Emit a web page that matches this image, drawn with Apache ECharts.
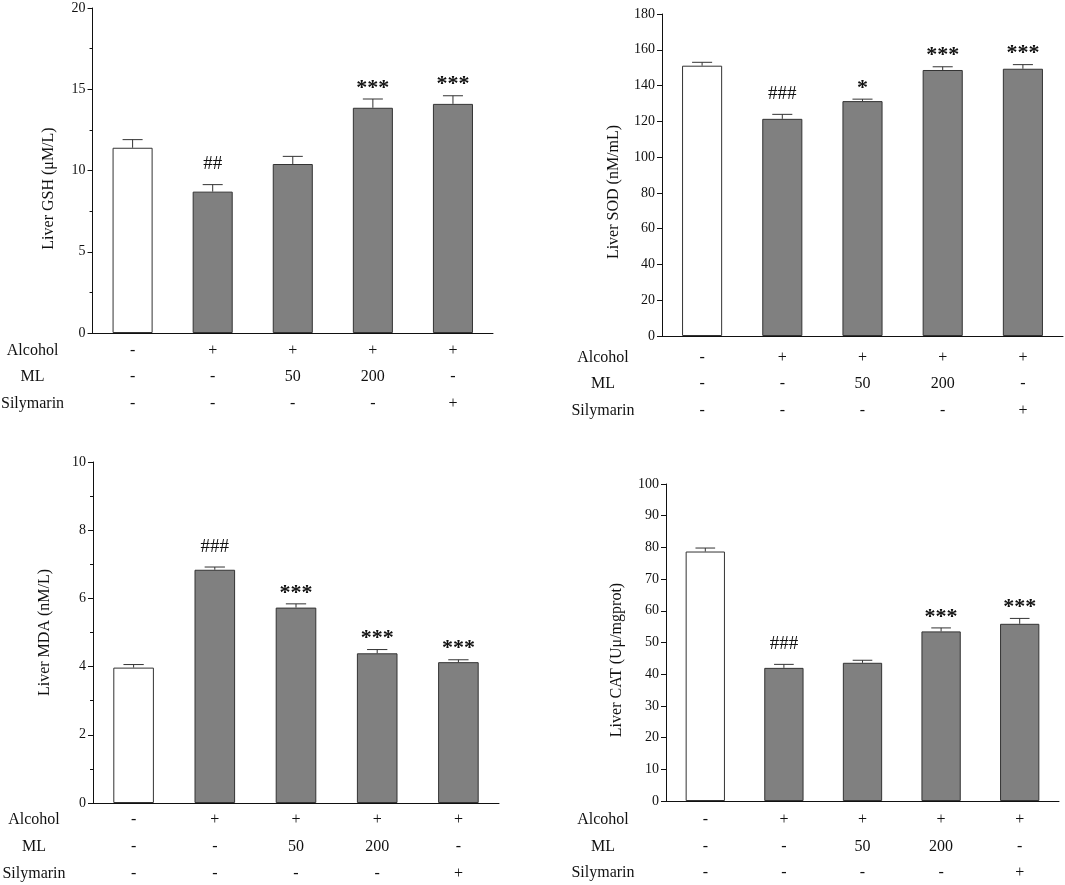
<!DOCTYPE html>
<html>
<head>
<meta charset="utf-8">
<title>Liver GSH, SOD, MDA and CAT</title>
<script src="https://cdn.jsdelivr.net/npm/echarts@6/dist/echarts.min.js"></script>
<style>
    html, body { margin: 0; padding: 0; background: #fff; }
    #main { width: 1065px; height: 885px; }
</style>
</head>
<body>
<div id="main"></div>
<script>
// treatment table under every panel
var groups = ['Control', 'Alcohol', 'ML 50', 'ML 200', 'Silymarin'];
var rowNames = ['Alcohol', 'ML', 'Silymarin'];
var alcoholRow = ['-', '+', '+', '+', '+'];
var mlRow = ['-', '-', '50', '200', '-'];
var silymarinRow = ['-', '-', '-', '-', '+'];

// mean and upper error (SEM)
var gshMean = [11.4, 8.7, 10.4, 13.86, 14.1];
var gshErr = [0.5, 0.43, 0.47, 0.54, 0.5];
var gshSig = ['', '##', '', '***', '***'];

var sodMean = [151.1, 121.4, 131.3, 148.7, 149.4];
var sodErr = [1.9, 2.5, 1.1, 1.8, 2.3];
var sodSig = ['', '###', '*', '***', '***'];

var mdaMean = [3.97, 6.84, 5.73, 4.39, 4.13];
var mdaErr = [0.09, 0.08, 0.11, 0.11, 0.07];
var mdaSig = ['', '###', '***', '***', '***'];

var catMean = [78.7, 42.0, 43.6, 53.5, 55.9];
var catErr = [1.1, 1.1, 0.8, 1.1, 1.7];
var catSig = ['', '###', '', '***', '***'];

var FONT = '"Liberation Serif", "Times New Roman", serif';
var INK = '#111';

var panels = [
    {name: 'Liver GSH (\u03bcM/L)', mean: gshMean, err: gshErr, sig: gshSig, max: 20, interval: 5, minor: 2,
        grid: {left: 92, top: 8, width: 401, height: 325}, rows: [18, 44, 71], rowGap: 60, nameGap: 36, nameShift: 36},
    {name: 'Liver SOD (nM/mL)', mean: sodMean, err: sodErr, sig: sodSig, max: 180, interval: 20, minor: 0,
        grid: {left: 662, top: 14, width: 401, height: 322}, rows: [22, 48, 75], rowGap: 59, nameGap: 40, nameShift: 34},
    {name: 'Liver MDA (nM/L)', mean: mdaMean, err: mdaErr, sig: mdaSig, max: 10, interval: 2, minor: 2,
        grid: {left: 93, top: 462, width: 406, height: 341}, rows: [17, 44, 71], rowGap: 59, nameGap: 40, nameShift: 0},
    {name: 'Liver CAT (U\u03bc/mgprot)', mean: catMean, err: catErr, sig: catSig, max: 100, interval: 10, minor: 0,
        grid: {left: 666, top: 484, width: 393, height: 317}, rows: [19, 46, 72], rowGap: 63, nameGap: 41, nameShift: 35}
];

var tableRows = [alcoholRow, mlRow, silymarinRow];

var grids = [], xAxes = [], yAxes = [], series = [];

panels.forEach(function (p, i) {
    grids.push(p.grid);

    // main category axis: only the baseline
    var mainIndex = xAxes.length;
    xAxes.push({
        type: 'category', gridIndex: i, position: 'bottom', data: groups,
        axisLine: {show: true, lineStyle: {color: INK, width: 1}},
        axisTick: {show: false},
        axisLabel: {show: false}
    });

    // three table rows as extra, offset category axes
    tableRows.forEach(function (row, r) {
        xAxes.push({
            type: 'category', gridIndex: i, position: 'bottom', offset: p.rows[r], data: row,
            axisLine: {show: false}, axisTick: {show: false},
            axisLabel: {show: true, margin: 0, verticalAlign: 'middle', color: INK, fontFamily: FONT, fontSize: 16},
            name: rowNames[r], nameLocation: 'start', nameGap: p.rowGap,
            nameTextStyle: {align: 'center', verticalAlign: 'middle', color: INK, fontFamily: FONT, fontSize: 16}
        });
    });

    yAxes.push({
        type: 'value', gridIndex: i, min: 0, max: p.max, interval: p.interval,
        name: p.name, nameLocation: 'middle', nameGap: p.nameGap, nameRotate: 90,
        nameTextStyle: {color: INK, fontFamily: FONT, fontSize: 16, padding: [0, p.nameShift, 0, 0]},
        axisLine: {show: true, lineStyle: {color: INK, width: 1}},
        axisTick: {show: true, length: 5, lineStyle: {color: INK}},
        minorTick: {show: p.minor > 0, splitNumber: p.minor || 5, length: 3, lineStyle: {color: INK}},
        axisLabel: {color: INK, fontFamily: FONT, fontSize: 14, margin: 7},
        splitLine: {show: false}
    });

    series.push({
        type: 'bar', xAxisIndex: mainIndex, yAxisIndex: i, barWidth: '50%',
        data: p.mean.map(function (v, k) {
            return {value: v, itemStyle: {color: k === 0 ? '#ffffff' : '#808080'}};
        }),
        itemStyle: {borderColor: '#333', borderWidth: 1},
        emphasis: {disabled: true},
        silent: true
    });

    series.push({
        type: 'custom', xAxisIndex: mainIndex, yAxisIndex: i,
        data: p.mean.map(function (v, k) { return [k, v, v + p.err[k]]; }),
        encode: {x: 0, y: [1, 2]},
        z: 3,
        silent: true,
        renderItem: function (params, api) {
            var k = api.value(0);
            var p0 = api.coord([k, api.value(1)]);
            var p1 = api.coord([k, api.value(2)]);
            var half = api.size([1, 0])[0] * 0.125;
            var ls = {stroke: '#333', lineWidth: 1};
            var children = [
                {type: 'line', shape: {x1: p0[0], y1: p0[1], x2: p1[0], y2: p1[1]}, style: ls},
                {type: 'line', shape: {x1: p1[0] - half, y1: p1[1], x2: p1[0] + half, y2: p1[1]}, style: ls}
            ];
            var s = p.sig[params.dataIndex];
            if (s) {
                var star = s.charAt(0) === '*';
                children.push({
                    type: 'text', x: p1[0], y: p1[1] - (star ? 0 : 11),
                    style: {
                        text: s, fill: INK, align: 'center', verticalAlign: 'bottom',
                        font: (star ? 'bold 22px ' : '19px ') + FONT
                    }
                });
            }
            return {type: 'group', children: children};
        }
    });
});

var myChart = echarts.init(document.getElementById('main'));
myChart.setOption({
    animation: false,
    backgroundColor: '#fff',
    grid: grids,
    xAxis: xAxes,
    yAxis: yAxes,
    series: series
});
</script>
</body>
</html>
